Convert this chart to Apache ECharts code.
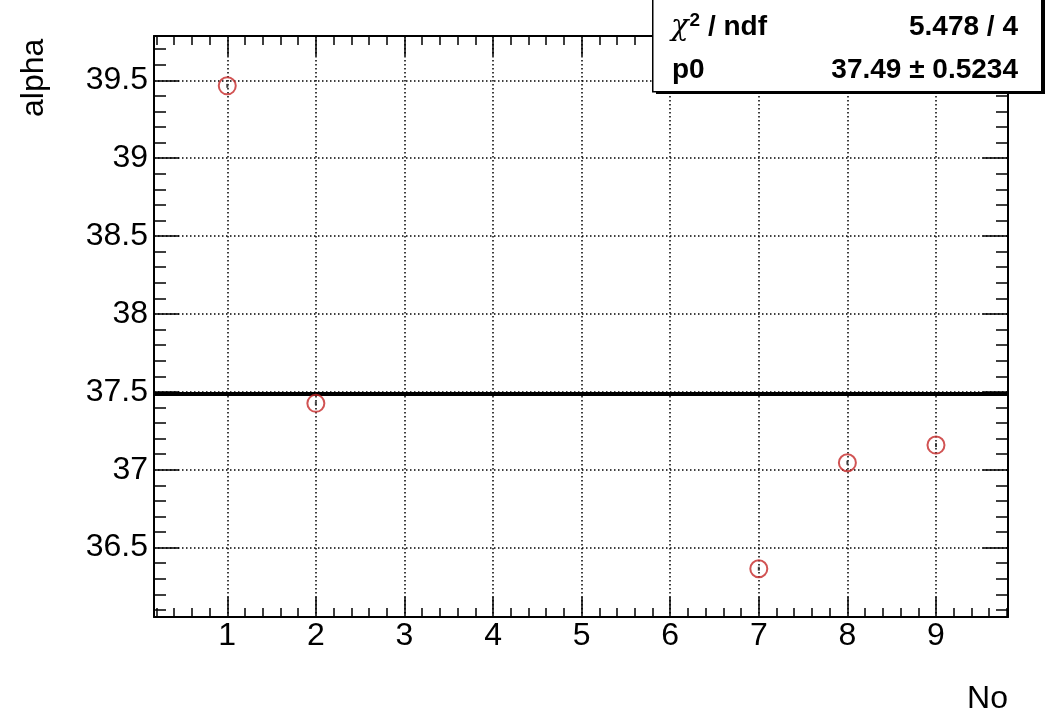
<!DOCTYPE html>
<html>
<head>
<meta charset="utf-8">
<script src="https://cdn.jsdelivr.net/npm/echarts@6/dist/echarts.min.js"></script>
<style>
html,body{margin:0;padding:0;background:#fff;}
#chart{width:1056px;height:716px;}
</style>
</head>
<body>
<div id="chart"></div>
<script>
// ---- data ----
var xValues = [1, 2, 7, 8, 9];
var alphaValues = [39.465, 37.426, 36.364, 37.045, 37.158];
var fitValue = 37.49;
var xMajorTicks = [1, 2, 3, 4, 5, 6, 7, 8, 9];
var yMajorTicks = [36.5, 37, 37.5, 38, 38.5, 39, 39.5];
var xRange = [0.173, 9.813];
var yRange = [36.054, 39.785];
var statsLabels = ['{chi|χ}{sup|2} / ndf', 'p0'];
var statsValues = ['5.478 / 4', '37.49 ± 0.5234'];
var xTitle = 'No';
var yTitle = 'alpha';

// minor tick positions (axis decoration only)
var xMinorTicks = [];
for (var i = 1; i <= 49; i++) { var v = Math.round(i * 2) / 10; if (Math.abs(v - Math.round(v)) > 1e-6) xMinorTicks.push(v); }
var yMinorTicks = [];
for (var j = 361; j <= 397; j++) { var w = j / 10; if (Math.abs(w * 2 - Math.round(w * 2)) > 1e-6) yMinorTicks.push(w); }

var FONT = '"Liberation Sans", Arial, Helvetica, sans-serif';
var dataPts = xValues.map(function (x, k) { return [x, alphaValues[k]]; });

function xAxisDef(pos, major, showLabel) {
  return {
    type: 'value', position: pos, min: xRange[0], max: xRange[1],
    axisLine: { show: major, onZero: false, lineStyle: { color: '#000', width: 2 } },
    axisTick: { show: true, inside: true, length: major ? 20 : 9, customValues: major ? xMajorTicks : xMinorTicks,
      lineStyle: { color: '#000', width: 1.5 } },
    axisLabel: { show: showLabel, customValues: xMajorTicks, fontSize: 32, color: '#000', fontFamily: FONT, margin: 3,
      formatter: function (v) { return String(Math.round(v)); } },
    splitLine: { show: major && pos === 'bottom', lineStyle: { color: '#000', width: 1.5, type: [1.5, 2.5] } },
    minorTick: { show: false }
  };
}
function yAxisDef(pos, major, showLabel) {
  return {
    type: 'value', position: pos, min: yRange[0], max: yRange[1],
    axisLine: { show: major, onZero: false, lineStyle: { color: '#000', width: 2 } },
    axisTick: { show: true, inside: true, length: major ? 25 : 12, customValues: major ? yMajorTicks : yMinorTicks,
      lineStyle: { color: '#000', width: 1.5 } },
    axisLabel: { show: showLabel, customValues: yMajorTicks, fontSize: 32, color: '#000', fontFamily: FONT, margin: 6,
      formatter: function (v) { return String(Math.round(v * 10) / 10); } },
    splitLine: { show: major && pos === 'left', lineStyle: { color: '#000', width: 1.5, type: [1.5, 2.5] } },
    minorTick: { show: false }
  };
}

var chart = echarts.init(document.getElementById('chart'), null, { renderer: 'canvas' });
chart.setOption({
  animation: false,
  backgroundColor: '#fff',
  grid: { left: 154, top: 36, right: 48, bottom: 99, containLabel: false, outerBoundsMode: 'none' },
  xAxis: [
    xAxisDef('bottom', true, true),
    xAxisDef('bottom', false, false),
    xAxisDef('top', true, false),
    xAxisDef('top', false, false)
  ],
  yAxis: [
    yAxisDef('left', true, true),
    yAxisDef('left', false, false),
    yAxisDef('right', true, false),
    yAxisDef('right', false, false)
  ],
  series: [
    {
      type: 'scatter', xAxisIndex: 0, yAxisIndex: 0, data: dataPts,
      symbol: 'circle', symbolSize: 17, z: 5,
      itemStyle: { color: 'rgba(0,0,0,0)', borderColor: '#c62828', borderWidth: 2 },
      markLine: {
        silent: true, symbol: ['none', 'none'], label: { show: false },
        lineStyle: { color: '#000', width: 4, type: 'solid' },
        data: [{ yAxis: fitValue }]
      }
    },
    {
      type: 'scatter', xAxisIndex: 0, yAxisIndex: 0, data: dataPts,
      symbol: 'rect', symbolSize: [2, 4], z: 6, silent: true,
      itemStyle: { color: '#222' }
    }
  ],
  graphic: [
    { type: 'rect', left: 656, top: -2, z: 100, shape: { width: 389, height: 96 }, style: { fill: '#000' } },
    { type: 'rect', left: 652, top: -4, z: 101, shape: { width: 389, height: 95 }, style: { fill: '#fff', stroke: '#000', lineWidth: 1.5 } },
    { type: 'text', x: 671, y: 27, z: 102, style: { text: statsLabels[0], fill: '#000', font: 'bold 28px ' + FONT, textVerticalAlign: 'middle', textAlign: 'left',
        rich: {
          chi: { fontSize: 29, fontStyle: 'italic', fontWeight: 'normal', fontFamily: '"DejaVu Serif", serif' },
          sup: { fontSize: 19, fontWeight: 'bold', fontFamily: FONT, verticalAlign: 'top', padding: [0, 0, 12, 1] }
        } } },
    { type: 'text', x: 1018, y: 27, z: 102, style: { text: statsValues[0], fill: '#000', font: 'bold 28px ' + FONT, textVerticalAlign: 'middle', textAlign: 'right' } },
    { type: 'text', x: 672, y: 70, z: 102, style: { text: statsLabels[1], fill: '#000', font: 'bold 28px ' + FONT, textVerticalAlign: 'middle', textAlign: 'left' } },
    { type: 'text', x: 1018, y: 70, z: 102, style: { text: statsValues[1], fill: '#000', font: 'bold 28px ' + FONT, textVerticalAlign: 'middle', textAlign: 'right' } },
    { type: 'text', x: 1008, y: 699, z: 102, style: { text: xTitle, fill: '#000', font: '32px ' + FONT, textVerticalAlign: 'middle', textAlign: 'right' } },
    { type: 'text', x: 34, y: 117, rotation: Math.PI / 2, z: 102, style: { text: yTitle, fill: '#000', font: '32px ' + FONT, textVerticalAlign: 'middle', textAlign: 'left' } }
  ]
});
</script>
</body>
</html>
